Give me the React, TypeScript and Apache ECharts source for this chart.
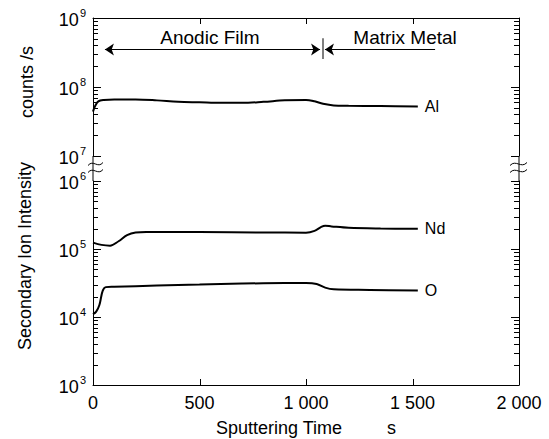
import React, { useEffect, useRef } from 'react';
import * as echarts from 'echarts';

const FONT = 'Arial, "Liberation Sans", sans-serif';

const xTickValues = [0, 500, 1000, 1500, 2000];

const alTime = [0, 10, 25, 50, 100, 200, 300, 400, 500, 600, 700, 800, 900, 1000, 1040, 1080, 1130, 1200, 1350, 1525];
const alCounts = [4.4e7, 5.3e7, 6.2e7, 6.5e7, 6.6e7, 6.6e7, 6.4e7, 6.1e7, 6.0e7, 5.9e7, 5.9e7, 6.1e7, 6.4e7, 6.5e7, 6.2e7, 5.7e7, 5.4e7, 5.35e7, 5.3e7, 5.2e7];

const ndTime = [0, 40, 80, 120, 160, 200, 250, 500, 800, 1000, 1040, 1070, 1090, 1120, 1200, 1350, 1525];
const ndCounts = [1.24e5, 1.15e5, 1.12e5, 1.3e5, 1.6e5, 1.75e5, 1.78e5, 1.78e5, 1.75e5, 1.74e5, 1.85e5, 2.1e5, 2.2e5, 2.15e5, 2.05e5, 2.0e5, 1.98e5];

const oTime = [0, 15, 30, 45, 60, 100, 300, 500, 700, 900, 1000, 1050, 1090, 1130, 1300, 1525];
const oCounts = [1.1e4, 1.2e4, 1.5e4, 2.4e4, 2.75e4, 2.78e4, 2.9e4, 3.0e4, 3.1e4, 3.15e4, 3.15e4, 3.05e4, 2.7e4, 2.55e4, 2.5e4, 2.45e4];

const upperMajorTicks = [1e7, 1e8, 1e9];
const lowerMajorTicks = [1e3, 1e4, 1e5, 1e6];
const upperMinorTicks = [2e7, 3e7, 4e7, 5e7, 6e7, 7e7, 8e7, 9e7, 2e8, 3e8, 4e8, 5e8, 6e8, 7e8, 8e8, 9e8];
const lowerMinorTicks = [2e3, 3e3, 4e3, 5e3, 6e3, 7e3, 8e3, 9e3, 2e4, 3e4, 4e4, 5e4, 6e4, 7e4, 8e4, 9e4, 2e5, 3e5, 4e5, 5e5, 6e5, 7e5, 8e5, 9e5];
const xInnerTicks = [500, 1000, 1500];

const annotationY = 3.5e8;
const labelY = 5.3e8;

function zip(t: number[], v: number[]) {
  return t.map((x, i) => [x, v[i]]);
}

const GRID_LEFT = 93;
const GRID_RIGHT_X = 519;
const UP_TOP = 18;
const UP_BOTTOM = 156;
const LO_TOP = 181;
const LO_BOTTOM = 385;
const TICK_COLOR = '#000';

function expLabel(v: number) {
  return `{b|10}{s|${Math.round(Math.log10(v))}}`;
}

function yAxes(gridIndex: number, min: number, max: number) {
  const common = {
    type: 'log' as const,
    gridIndex,
    min,
    max,
    logBase: 10,
    splitLine: { show: false },
    axisLine: { show: true, lineStyle: { color: '#000', width: 1 } },
    axisTick: { show: false },
  };
  return [
    {
      ...common,
      position: 'left',
      axisLabel: {
        show: true,
        showMinLabel: true,
        showMaxLabel: true,
        margin: 7,
        formatter: expLabel,
        rich: {
          b: { fontSize: 18, fontFamily: FONT, color: '#000', lineHeight: 22, verticalAlign: 'bottom' },
          s: { fontSize: 11, fontFamily: FONT, color: '#000', lineHeight: 22, verticalAlign: 'top', padding: [0, 0, 0, 1] },
        },
      },
    },
    {
      ...common,
      position: 'right',
      axisLabel: { show: false },
    },
  ];
}

function tilde(x0: number, y0: number, w: number) {
  return {
    type: 'bezierCurve',
    shape: {
      x1: x0, y1: y0 + 1.5,
      cpx1: x0 + w * 0.35, cpy1: y0 - 5,
      cpx2: x0 + w * 0.65, cpy2: y0 + 5,
      x2: x0 + w, y2: y0 - 1.5,
    },
    style: { stroke: '#000', lineWidth: 1, fill: 'none' },
    silent: true,
  };
}

export default function App() {
  const ref = useRef<HTMLDivElement>(null);
  useEffect(() => {
    const chart = echarts.init(ref.current!, null, { renderer: 'svg' });
    const lineStyle = { color: '#000', width: 2 };
    const endLabel = (name: string) => ({
      show: true,
      formatter: name,
      fontSize: 16,
      fontFamily: FONT,
      color: '#000',
      distance: 7,
    });
    const option: any = {
      animation: false,
      backgroundColor: '#fff',
      textStyle: { fontFamily: FONT },
      grid: [
        { left: GRID_LEFT, top: UP_TOP, width: GRID_RIGHT_X - GRID_LEFT, height: UP_BOTTOM - UP_TOP },
        { left: GRID_LEFT, top: LO_TOP, width: GRID_RIGHT_X - GRID_LEFT, height: LO_BOTTOM - LO_TOP },
      ],
      xAxis: [
        {
          type: 'value',
          gridIndex: 0,
          position: 'top',
          min: 0,
          max: 2000,
          interval: 500,
          splitLine: { show: false },
          axisLine: { show: true, lineStyle: { color: '#000' } },
          axisTick: { show: false },
          axisLabel: { show: false },
        },
        {
          type: 'value',
          gridIndex: 1,
          position: 'bottom',
          min: 0,
          max: 2000,
          interval: 500,
          splitLine: { show: false },
          axisLine: { show: true, lineStyle: { color: '#000' } },
          axisTick: { show: false },
          axisLabel: {
            show: true,
            margin: 9,
            fontSize: 18,
            fontFamily: FONT,
            color: '#000',
            showMinLabel: true,
            showMaxLabel: true,
            formatter: (v: number) => {
              const i = xTickValues.indexOf(v);
              const s = String(i >= 0 ? xTickValues[i] : v);
              return s.length > 3 ? s.slice(0, s.length - 3) + ' ' + s.slice(s.length - 3) : s;
            },
          },
          name: 'Sputtering Time         s',
          nameLocation: 'middle',
          nameGap: 34,
          nameTextStyle: { fontSize: 18, fontFamily: FONT, color: '#000' },
        },
      ],
      yAxis: [...yAxes(0, 1e7, 1e9), ...yAxes(1, 1e3, 1e6)],
      series: [
        {
          name: 'Al',
          type: 'line',
          xAxisIndex: 0,
          yAxisIndex: 0,
          data: zip(alTime, alCounts),
          showSymbol: false,
          smooth: 0.35,
          lineStyle,
          itemStyle: { color: '#000' },
          endLabel: endLabel('Al'),
          markLine: {
            silent: true,
            animation: false,
            label: { show: false },
            lineStyle: { color: '#000', width: 1.2, type: 'solid' },
            symbol: ['none', 'none'],
            data: [
              [
                { coord: [56, annotationY], symbol: 'arrow', symbolSize: 9 },
                { coord: [1066, annotationY], symbol: 'arrow', symbolSize: 9 },
              ],
              [
                { coord: [1089, annotationY], symbol: 'arrow', symbolSize: 9 },
                { coord: [1606, annotationY], symbol: 'none' },
              ],
              [
                { coord: [1078, 5.1e8], symbol: 'none', lineStyle: { color: '#555', width: 1.5 } },
                { coord: [1078, 2.55e8], symbol: 'none' },
              ],
            ],
          },
          markPoint: {
            silent: true,
            animation: false,
            symbol: 'circle',
            symbolSize: 1,
            itemStyle: { color: 'rgba(0,0,0,0)' },
            label: { show: true, position: 'inside', fontSize: 19, fontFamily: FONT, color: '#000' },
            data: [
              { coord: [549, labelY], label: { formatter: 'Anodic Film' } },
              { coord: [1465, labelY], label: { formatter: 'Matrix Metal' } },
            ],
          },
        },
        {
          name: 'Nd',
          type: 'line',
          xAxisIndex: 1,
          yAxisIndex: 2,
          data: zip(ndTime, ndCounts),
          showSymbol: false,
          smooth: 0.35,
          lineStyle,
          itemStyle: { color: '#000' },
          endLabel: endLabel('Nd'),
        },
        {
          name: 'O',
          type: 'line',
          xAxisIndex: 1,
          yAxisIndex: 2,
          data: zip(oTime, oCounts),
          showSymbol: false,
          smooth: 0.35,
          lineStyle,
          itemStyle: { color: '#000' },
          endLabel: endLabel('O'),
        },
      ],
    };
    chart.setOption(option);

    const tickStyle = { stroke: TICK_COLOR, lineWidth: 1 };
    const graphics: any[] = [
      { type: 'line', shape: { x1: GRID_LEFT, y1: UP_BOTTOM, x2: GRID_LEFT, y2: LO_TOP }, style: { stroke: '#000', lineWidth: 1 } },
      { type: 'line', shape: { x1: GRID_RIGHT_X, y1: UP_BOTTOM, x2: GRID_RIGHT_X, y2: LO_TOP }, style: { stroke: '#000', lineWidth: 1 } },
      tilde(88, 164, 15),
      tilde(88, 171, 15),
      tilde(510, 164, 17),
      tilde(510, 171, 17),
      {
        type: 'text',
        x: 27,
        y: 82,
        rotation: Math.PI / 2,
        style: { text: 'counts /s', fontSize: 18, fontFamily: FONT, fill: '#000', align: 'center', verticalAlign: 'middle' },
      },
      {
        type: 'text',
        x: 25,
        y: 256,
        rotation: Math.PI / 2,
        style: { text: 'Secondary Ion Intensity', fontSize: 18, fontFamily: FONT, fill: '#000', align: 'center', verticalAlign: 'middle' },
      },
    ];
    const addY = (xi: number, yi: number, values: number[], len: number) => {
      for (const v of values) {
        const l = chart.convertToPixel({ xAxisIndex: xi, yAxisIndex: yi } as any, [0, v]) as number[];
        const r = chart.convertToPixel({ xAxisIndex: xi, yAxisIndex: yi } as any, [2000, v]) as number[];
        const y = Math.round(l[1]) + 0.5;
        graphics.push({ type: 'line', shape: { x1: l[0], y1: y, x2: l[0] + len, y2: y }, style: tickStyle });
        graphics.push({ type: 'line', shape: { x1: r[0], y1: y, x2: r[0] - len, y2: y }, style: tickStyle });
      }
    };
    addY(0, 0, upperMajorTicks, 8);
    addY(0, 0, upperMinorTicks, 5);
    addY(1, 2, lowerMajorTicks, 8);
    addY(1, 2, lowerMinorTicks, 5);
    for (const x of xInnerTicks) {
      const t = chart.convertToPixel({ xAxisIndex: 0, yAxisIndex: 0 } as any, [x, 1e9]) as number[];
      const b = chart.convertToPixel({ xAxisIndex: 1, yAxisIndex: 2 } as any, [x, 1e3]) as number[];
      const xx = Math.round(t[0]) + 0.5;
      graphics.push({ type: 'line', shape: { x1: xx, y1: t[1], x2: xx, y2: t[1] + 6 }, style: tickStyle });
      graphics.push({ type: 'line', shape: { x1: xx, y1: b[1], x2: xx, y2: b[1] - 6 }, style: tickStyle });
    }
    chart.setOption({ graphic: { elements: graphics } });
    return () => chart.dispose();
  }, []);
  return <div ref={ref} style={{ position: 'fixed', left: 0, top: 0, width: 549, height: 439 }} />;
}
